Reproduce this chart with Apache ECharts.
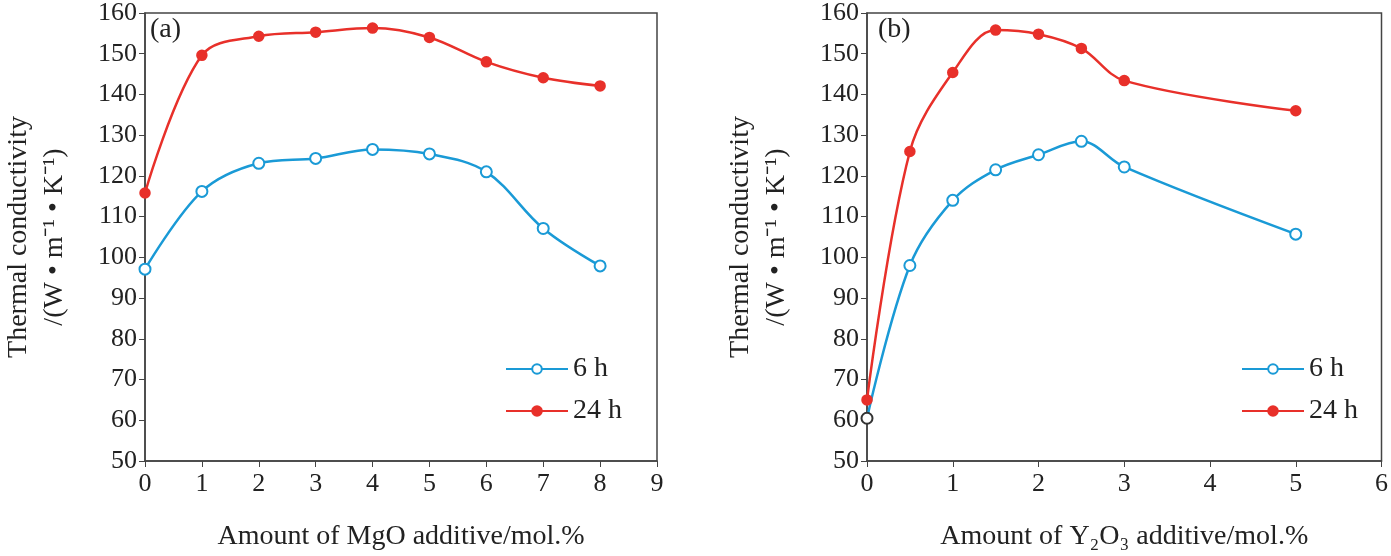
<!DOCTYPE html>
<html><head><meta charset="utf-8">
<script src="https://cdn.jsdelivr.net/npm/echarts@6/dist/echarts.min.js"></script>
<style>html,body{margin:0;background:#fff}#c{width:1391px;height:556px}</style>
</head><body><div id="c"></div>
<script>
var mgoX = [0, 1, 2, 3, 4, 5, 6, 7, 8];
var mgo6h = [97.1, 116.2, 123.1, 124.3, 126.5, 125.4, 121.0, 107.1, 97.9];
var mgo24h = [115.8, 149.6, 154.3, 155.3, 156.3, 154.0, 148.0, 144.1, 142.1];
var y2o3X = [0, 0.5, 1, 1.5, 2, 2.5, 3, 5];
var y2o36h = [60.5, 98.0, 114.0, 121.5, 125.2, 128.5, 122.2, 105.7];
var y2o324h = [65.0, 126.0, 145.4, 155.8, 154.8, 151.3, 143.4, 136.0];

var chart = echarts.init(document.getElementById('c'));
var font = 'Liberation Serif';
var blue = '#1a9ad6', red = '#e8302a';
function pair(xs, ys) { return xs.map(function (x, i) { return [x, ys[i]]; }); }
function xAxis(idx, max, name) {
    return {
        type: 'value', gridIndex: idx, min: 0, max: max, interval: 1,
        name: name, nameLocation: 'middle', nameGap: 62,
        nameTextStyle: { fontFamily: font, fontSize: 28, color: '#222' },
        axisLine: { lineStyle: { color: '#444', width: 1.5 } },
        axisTick: { length: 6, lineStyle: { color: '#444' } },
        axisLabel: { fontFamily: font, fontSize: 26, color: '#222', margin: 10 },
        splitLine: { show: false }
    };
}
function yAxis(idx) {
    return {
        type: 'value', gridIndex: idx, min: 50, max: 160, interval: 10,
        name: 'Thermal conductivity\n/(W • m⁻¹ • K⁻¹)', nameLocation: 'middle', nameGap: 72,
        nameTextStyle: { fontFamily: font, fontSize: 28, color: '#222', lineHeight: 36 },
        axisLine: { lineStyle: { color: '#444', width: 1.5 } },
        axisTick: { length: 6, lineStyle: { color: '#444' } },
        axisLabel: { fontFamily: font, fontSize: 26, color: '#222', margin: 8 },
        splitLine: { show: false }
    };
}
function series(idx, name, data, color, filled) {
    return {
        name: name, type: 'line', xAxisIndex: idx, yAxisIndex: idx, smooth: 0.35,
        data: data, symbol: filled ? 'circle' : 'emptyCircle', symbolSize: filled ? 9 : 11,
        lineStyle: { color: color, width: 2.5 },
        itemStyle: { color: color, borderColor: color, borderWidth: 2.5 }
    };
}
var s6b = series(1, '6 h', pair(y2o3X, y2o36h), blue, false);
s6b.data[0] = { value: s6b.data[0], itemStyle: { color: '#333', borderColor: '#333' } };

var legendStyle = { orient: 'vertical', itemWidth: 62, itemHeight: 12, itemGap: 14,
    textStyle: { fontFamily: font, fontSize: 28, color: '#222' }, data: ['6 h', '24 h'] };

chart.setOption({
    animation: false,
    grid: [
        { left: 137, right: 734, top: 12, height: 455, show: true, borderColor: '#444', borderWidth: 1.5 },
        { left: 867, right: 8, top: 12, height: 455, show: true, borderColor: '#444', borderWidth: 1.5 }
    ],
    xAxis: [xAxis(0, 9, 'Amount of MgO additive/mol.%'),
            xAxis(1, 6, 'Amount of Y₂O₃ additive/mol.%')],
    yAxis: [yAxis(0), yAxis(1)],
    legend: [
        Object.assign({ left: 500, top: 350 }, legendStyle),
        Object.assign({ left: 1236, top: 350 }, legendStyle)
    ],
    graphic: [
        { type: 'text', left: 150, top: 16, style: { text: '(a)', font: '28px "Liberation Serif"', fill: '#222' } },
        { type: 'text', left: 878, top: 16, style: { text: '(b)', font: '28px "Liberation Serif"', fill: '#222' } }
    ],
    series: [
        series(0, '6 h', pair(mgoX, mgo6h), blue, false),
        series(0, '24 h', pair(mgoX, mgo24h), red, true),
        s6b,
        series(1, '24 h', pair(y2o3X, y2o324h), red, true)
    ]
});
</script></body></html>
